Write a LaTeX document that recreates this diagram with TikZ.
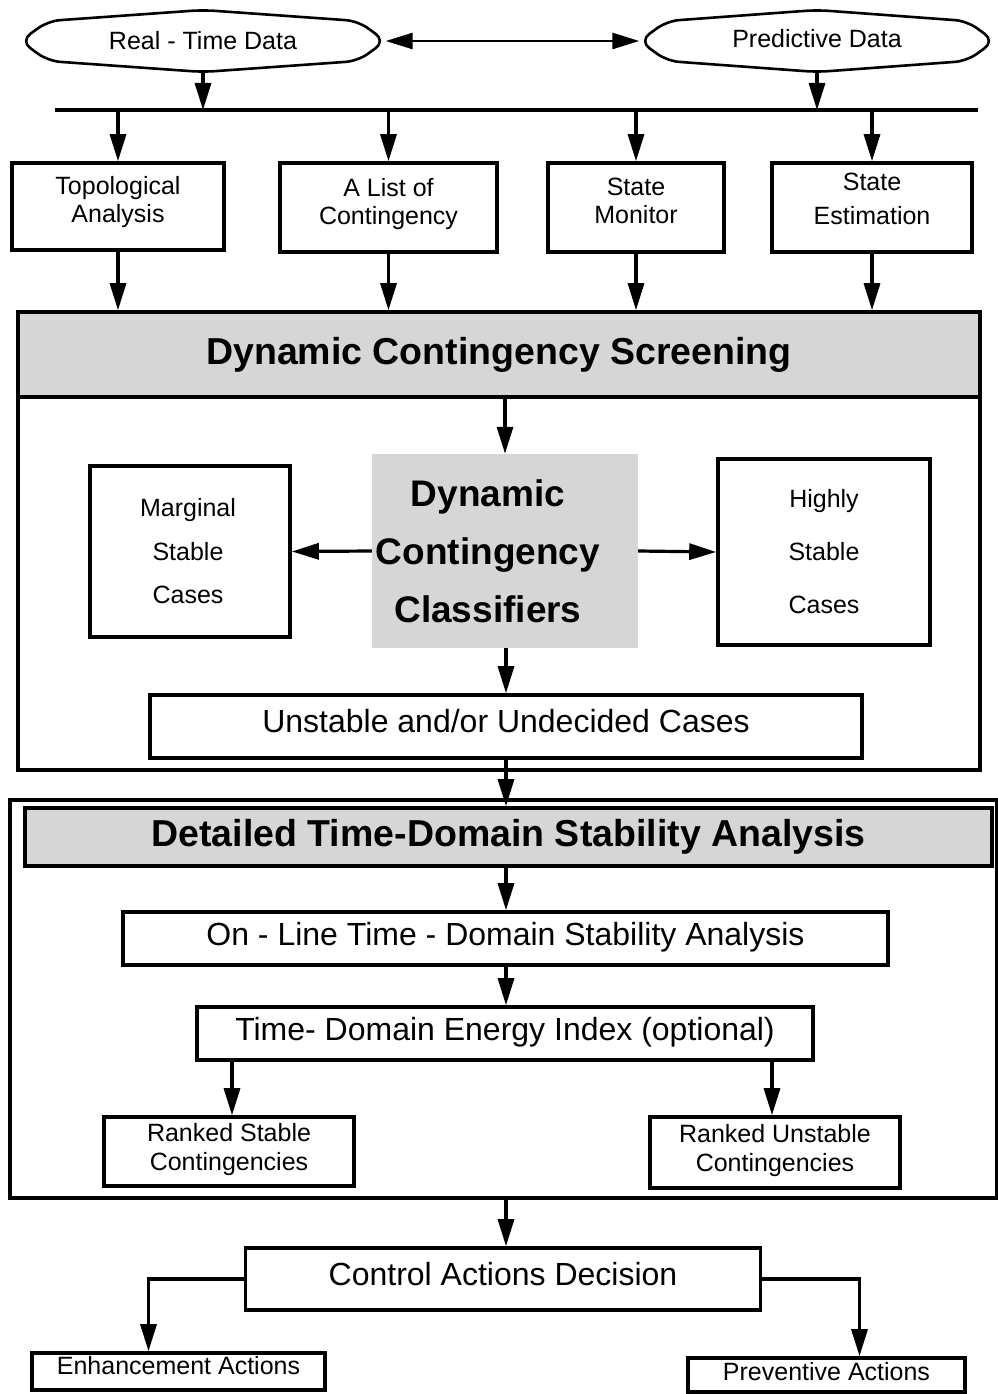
\documentclass[tikz,border=0pt]{standalone}
\usepackage{fontspec}
\setmainfont{Liberation Sans}
\usetikzlibrary{arrows.meta}
\begin{document}
\begin{tikzpicture}[x=1pt,y=-1pt,
  box/.style={draw,line width=3.6pt,align=center,inner sep=0pt},
  arr/.style={line width=3.2pt,-{Triangle[length=27pt,width=16pt]}},
  lin/.style={line width=2.6pt},
  shadefill/.style={fill=black!16},
  fA/.style={font=\fontsize{25}{28}\selectfont},
  fB/.style={font=\fontsize{32}{36}\selectfont},
  fH/.style={font=\bfseries\fontsize{37.5}{40}\selectfont},
]
\useasboundingbox (0,0) rectangle (998,1394);

% top data sources
\node[fA,minimum width=365pt,minimum height=62pt,inner sep=0pt] (rt) at (203,41) {Real - Time Data};
\node[fA,minimum width=355pt,minimum height=62pt,inner sep=0pt,text height=14pt] (pd) at (817,41) {Predictive Data};
\draw[lin,rounded corners=12pt,shift={(rt.center)}] (-182.5,0) -- (-155,-20) -- (0,-31) -- (155,-20) -- (182.5,0) -- (155,20) -- (0,31) -- (-155,20) -- cycle;
\draw[lin,rounded corners=12pt,shift={(pd.center)}] (-177.5,0) -- (-150,-20) -- (0,-31) -- (150,-20) -- (177.5,0) -- (150,20) -- (0,31) -- (-150,20) -- cycle;
\draw[line width=2.6pt,{Triangle[length=27pt,width=16pt]}-{Triangle[length=27pt,width=16pt]}] (rt.east) -- (pd.west);

% bus
\coordinate (busL) at (55,110);
\coordinate (busR) at (978,110);
\draw[line width=3.2pt] (busL) -- (busR);
\draw[arr] (rt.south) -- (rt.south |- busL);
\draw[arr] (pd.south) -- (pd.south |- busL);

% four input boxes
\node[box,fA,minimum width=212pt,minimum height=87pt,text depth=15pt] (topo) at (118,206.5) {Topological\\Analysis};
\node[box,fA,minimum width=217pt,minimum height=89pt,text depth=13pt] (lst) at (388.5,207.5) {A List of\\Contingency};
\node[box,fA,minimum width=176pt,minimum height=89pt,text depth=14pt] (smon) at (636,207.5) {State\\Monitor};
\node[box,minimum width=200pt,minimum height=89pt,text depth=17pt,font=\fontsize{25}{34}\selectfont] (sest) at (872,207.5) {State\\Estimation};

\foreach \b in {topo,lst,smon,sest}{
  \draw[arr] (\b.north |- busL) -- (\b.north);
}

% screening block
\node[box,minimum width=962pt,minimum height=458pt] (b1) at (499,541) {};
\node[box,shadefill,fH,minimum width=962pt,minimum height=85pt] (scr) at (499,354.5) {Dynamic Contingency Screening};
\foreach \b in {topo,lst,smon,sest}{
  \draw[arr] (\b.south) -- (\b.south |- scr.north);
}

\node[shadefill,align=center,minimum width=266pt,minimum height=194pt,inner sep=0pt,font=\bfseries\fontsize{37}{58}\selectfont] (cls) at (505,551) {Dynamic\kern34pt\\Contingency\kern34pt\\Classifiers\kern34pt};
\node[box,minimum width=200pt,minimum height=171pt,font=\fontsize{25}{43.5}\selectfont] (mar) at (190,551.5) {Marginal\kern4pt\\Stable\kern4pt\\Cases\kern4pt};
\node[box,minimum width=212pt,minimum height=186pt,font=\fontsize{25}{53}\selectfont] (hi) at (824,552) {Highly\\Stable\\Cases};
\node[box,fB,minimum width=712pt,minimum height=63pt,text depth=11pt] (uns) at (506,726.5) {Unstable and/or Undecided Cases};

\draw[arr] (cls.north |- scr.south) -- (cls.north);
\draw[arr] (cls.west) -- (mar.east);
\draw[arr] (cls.east) -- (hi.west);
\draw[arr] ([xshift=1pt]cls.south) -- ([xshift=1pt]cls.south |- uns.north);

% detailed analysis block
\node[box,minimum width=987pt,minimum height=398pt] (b2) at (503.5,999) {};
\node[box,shadefill,fH,minimum width=967pt,minimum height=58pt] (hdr) at (508.5,837) {Detailed Time-Domain Stability Analysis};
\draw[arr] (uns.south) -- (uns.south |- hdr.north);

\node[box,fB,minimum width=765pt,minimum height=53pt,text depth=10pt] (onl) at (505.5,938.5) {On - Line Time - Domain Stability Analysis};
\node[box,fB,minimum width=616pt,minimum height=53pt,text depth=10pt] (eng) at (505,1033.5) {Time- Domain Energy Index (optional)};
\node[box,minimum width=250pt,minimum height=69pt,text depth=10pt,font=\fontsize{25}{29}\selectfont] (rks) at (229,1151.5) {Ranked Stable\\Contingencies};
\node[box,minimum width=250pt,minimum height=71pt,text depth=10pt,font=\fontsize{25}{29}\selectfont] (rku) at (775,1152.5) {Ranked Unstable\\Contingencies};

\draw[arr] (uns.south |- hdr.south) -- (uns.south |- onl.north);
\draw[arr] (uns.south |- onl.south) -- (uns.south |- eng.north);
\draw[arr] ([xshift=3pt]rks.north |- eng.south) -- ([xshift=3pt]rks.north);
\draw[arr] ([xshift=-3pt]rku.north |- eng.south) -- ([xshift=-3pt]rku.north);

% control actions
\node[box,fB,minimum width=515pt,minimum height=62pt,text depth=11pt] (ctl) at (503,1279) {Control Actions Decision};
\node[box,fA,minimum width=293pt,minimum height=37pt,text depth=12pt] (enh) at (178.5,1371.5) {Enhancement Actions};
\node[box,fA,minimum width=277pt,minimum height=34pt,text depth=8pt] (prv) at (826.5,1375) {Preventive Actions};

\draw[arr] (uns.south |- b2.south) -- (uns.south |- ctl.north);
\draw[arr] (ctl.west) -| ([xshift=-30pt]enh.north);
\draw[arr] (ctl.east) -| ([xshift=33pt]prv.north);
\end{tikzpicture}
\end{document}
